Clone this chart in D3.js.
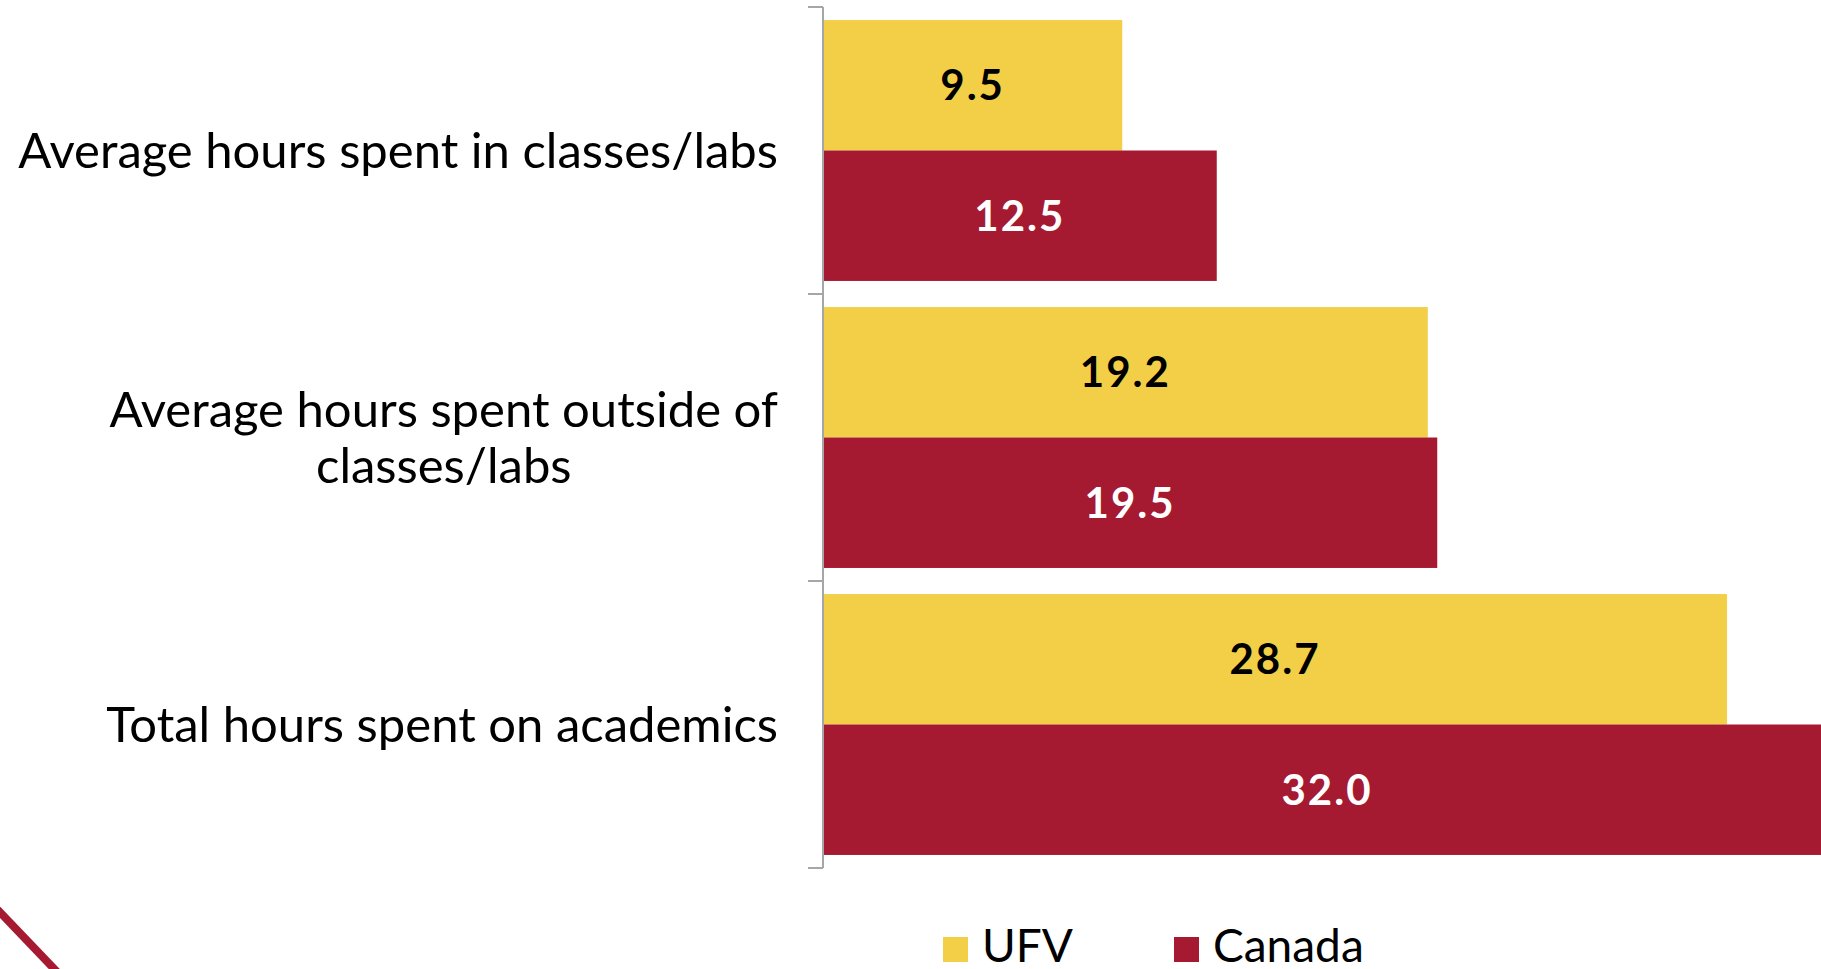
<!DOCTYPE html>
<html>
<head>
<meta charset="utf-8">
<script src="https://cdn.jsdelivr.net/npm/d3@7"></script>
<style>
  body { margin: 0; background: #fff; overflow: hidden; }
  text { font-family: Lato, "DejaVu Sans", sans-serif; }
</style>
</head>
<body>
<script>
var categories = [
  ['Average hours spent in classes/labs'],
  ['Average hours spent outside of', 'classes/labs'],
  ['Total hours spent on academics']
];
var seriesNames = ['UFV', 'Canada'];
var ufvValues = [9.5, 19.2, 28.7];
var canadaValues = [12.5, 19.5, 32.0];

var width = 1821;
var height = 969;
var yellow = '#f2cf47';
var red = '#a51931';

var svg = d3.select('body').append('svg')
  .attr('width', width)
  .attr('height', height);

// little red corner stroke in the bottom left
svg.append('line')
  .attr('x1', -4).attr('y1', 908)
  .attr('x2', 60).attr('y2', 975)
  .attr('stroke', red)
  .attr('stroke-width', 8);

var x = d3.scaleLinear()
  .domain([0, 32])
  .range([823, 823 + 32 * 31.5]);

var y = d3.scaleBand()
  .domain(d3.range(categories.length))
  .range([7, 868]);

var inner = d3.scaleBand()
  .domain([0, 1])
  .range([0, y.bandwidth()])
  .paddingOuter(0.1);

var rows = [];
for (var i = 0; i < categories.length; i++) {
  rows.push({ cat: i, s: 0, v: ufvValues[i] });
  rows.push({ cat: i, s: 1, v: canadaValues[i] });
}

svg.selectAll('rect.bar')
  .data(rows)
  .enter().append('rect')
  .attr('class', 'bar')
  .attr('x', x(0))
  .attr('y', function(d) { return y(d.cat) + inner(d.s); })
  .attr('width', function(d) { return x(d.v) - x(0); })
  .attr('height', inner.bandwidth())
  .attr('fill', function(d) { return d.s == 0 ? yellow : red; });

svg.selectAll('text.val')
  .data(rows)
  .enter().append('text')
  .attr('class', 'val')
  .attr('x', function(d) { return (x(0) + x(d.v)) / 2; })
  .attr('y', function(d) { return y(d.cat) + inner(d.s) + inner.bandwidth() / 2; })
  .attr('dy', '0.36em')
  .attr('text-anchor', 'middle')
  .attr('font-size', 42)
  .attr('font-weight', 'bold')
  .attr('letter-spacing', 2)
  .attr('fill', function(d) { return d.s == 0 ? '#000' : '#fff'; })
  .text(function(d) { return d.v.toFixed(1); });

// axis line with ticks between the groups
var axis = svg.append('g').attr('stroke', '#a6a6a6').attr('stroke-width', 2).attr('fill', 'none');
axis.append('line').attr('x1', x(0)).attr('x2', x(0)).attr('y1', 7).attr('y2', 868);
var tickPos = d3.range(categories.length + 1).map(function(i) {
  return i < categories.length ? y(i) : y(i - 1) + y.bandwidth();
});
axis.selectAll('line.tick')
  .data(tickPos)
  .enter().append('line')
  .attr('x1', x(0) - 15).attr('x2', x(0))
  .attr('y1', function(d) { return d; })
  .attr('y2', function(d) { return d; });

// category labels
var labels = svg.selectAll('text.cat')
  .data(categories)
  .enter().append('text')
  .attr('class', 'cat')
  .attr('font-size', 49)
  .attr('fill', '#000')
  .attr('text-anchor', 'end');

labels.each(function(lines, i) {
  var t = d3.select(this);
  var cy = y(i) + y.bandwidth() / 2;
  var lh = 56;
  var top = cy - (lines.length - 1) * lh / 2;
  lines.forEach(function(line, j) {
    t.append('tspan')
      .attr('x', 778)
      .attr('y', top + j * lh)
      .attr('dy', '0.36em')
      .text(line);
  });
});

// center the wrapped lines of a multi-line label on each other
labels.each(function(lines) {
  if (lines.length < 2) return;
  var spans = d3.select(this).selectAll('tspan').nodes();
  var w0 = spans[0].getComputedTextLength();
  spans.forEach(function(s) {
    var w = s.getComputedTextLength();
    s.setAttribute('x', 778 - (w0 - w) / 2);
  });
});

// legend
var legend = svg.selectAll('g.legend')
  .data(seriesNames)
  .enter().append('g')
  .attr('class', 'legend')
  .attr('transform', function(d, i) { return 'translate(' + (943 + i * 231) + ',937)'; });

legend.append('rect')
  .attr('width', 25).attr('height', 25)
  .attr('fill', function(d, i) { return i == 0 ? yellow : red; });

legend.append('text')
  .attr('x', 39)
  .attr('y', 25)
  .attr('font-size', 46)
  .attr('fill', '#000')
  .text(function(d) { return d; });
</script>
</body>
</html>
